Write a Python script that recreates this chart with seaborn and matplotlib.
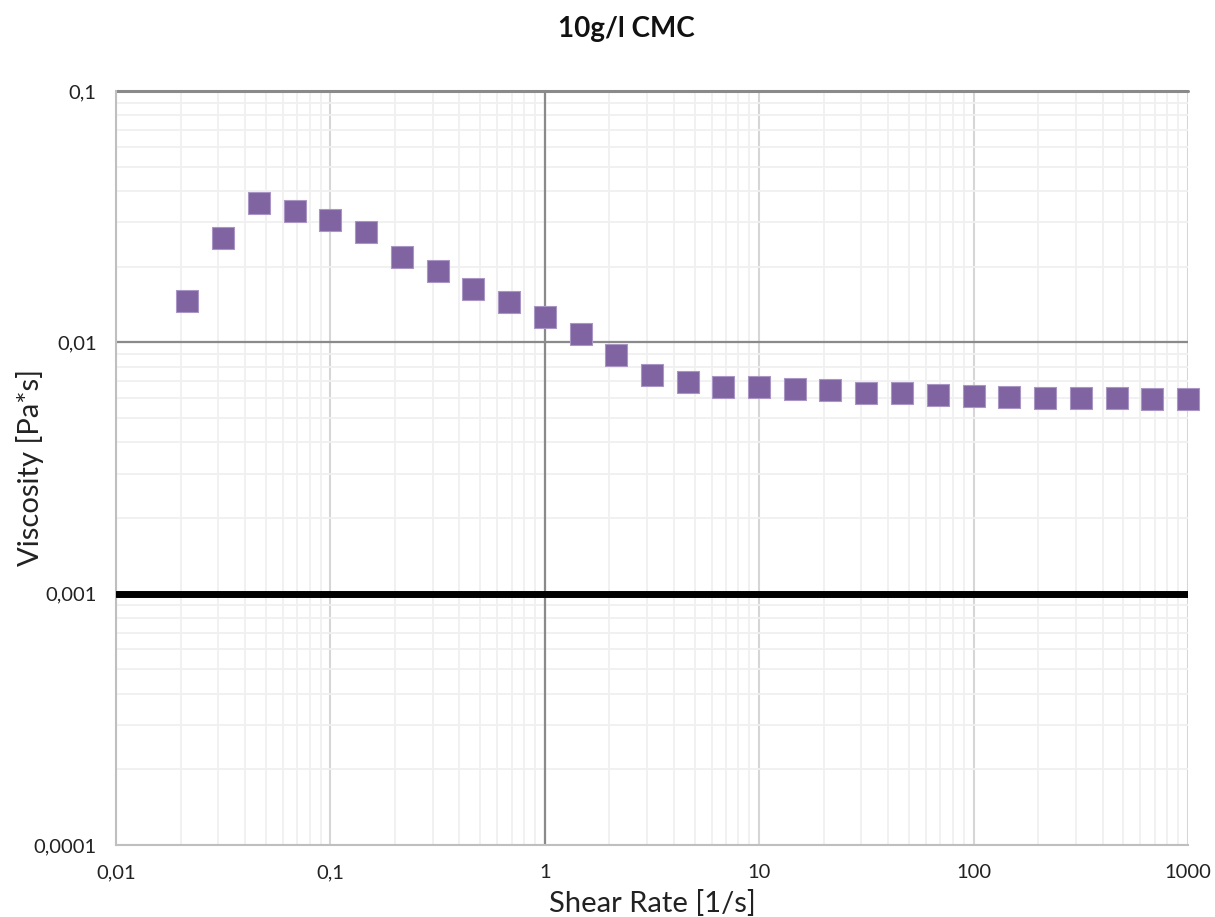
import numpy as np
import pandas as pd
import matplotlib
matplotlib.use("Agg")
import matplotlib.pyplot as plt
import matplotlib.ticker as mticker
import seaborn as sns

# data
shear_rate = [0.0215, 0.0316, 0.0464, 0.0681, 0.1, 0.147, 0.215, 0.316, 0.464, 0.681,
              1, 1.47, 2.15, 3.16, 4.64, 6.81, 10, 14.7, 21.5, 31.6, 46.4, 68.1,
              100, 147, 215, 316, 464, 681, 1000]
viscosity = [0.01458, 0.0259, 0.0359, 0.0334, 0.03055, 0.0275, 0.0218, 0.0193, 0.0163, 0.01445,
             0.01256, 0.01084, 0.00891, 0.00738, 0.00698, 0.00663, 0.00665, 0.00652, 0.00646, 0.00627,
             0.00626, 0.00617, 0.00611, 0.00606, 0.00603, 0.00599, 0.00598, 0.00595, 0.00595]
water_x = [0.01, 1000]
water_y = [0.001, 0.001]

x_ticks = [0.01, 0.1, 1, 10, 100, 1000]
x_labels = ["0,01", "0,1", "1", "10", "100", "1000"]
y_ticks = [0.0001, 0.001, 0.01, 0.1]
y_labels = ["0,0001", "0,001", "0,01", "0,1"]

df = pd.DataFrame({"shear": shear_rate, "visc": viscosity})

sns.set_style("white")
plt.rcParams['font.family'] = ['Lato', 'DejaVu Sans']

fig = plt.figure(figsize=(12.15, 9.17), dpi=100)
ax = fig.add_axes([116 / 1215, 1 - 845 / 917, (1188 - 116) / 1215, (845 - 91) / 917])
ax.set_xscale("log")
ax.set_yscale("log")
ax.set_xlim(0.01, 1000)
ax.set_ylim(0.0001, 0.1)

# grid like the Excel original
ax.xaxis.set_minor_locator(mticker.LogLocator(base=10, subs=np.arange(2, 10)))
ax.yaxis.set_minor_locator(mticker.LogLocator(base=10, subs=np.arange(2, 10)))
ax.grid(which="minor", color="#f0f0f0", lw=1.3)
ax.grid(which="major", color="#d6d6d6", lw=1.5)
ax.axvline(1, color="#8a8a8a", lw=1.6, zorder=1)
ax.axhline(0.01, color="#8a8a8a", lw=1.6, zorder=1)
ax.axhline(0.1, color="#8a8a8a", lw=2.2, zorder=1, clip_on=False)
ax.set_axisbelow(True)

sns.lineplot(x=water_x, y=water_y, color="black", lw=5, ax=ax, zorder=3)
sns.scatterplot(data=df, x="shear", y="visc", marker="s", s=230, color="#8064A2",
                edgecolor="#a996c4", linewidth=0.8, ax=ax, zorder=4, clip_on=False)

ax.xaxis.set_major_locator(mticker.FixedLocator(x_ticks))
ax.xaxis.set_major_formatter(mticker.FixedFormatter(x_labels))
ax.yaxis.set_major_locator(mticker.FixedLocator(y_ticks))
ax.yaxis.set_major_formatter(mticker.FixedFormatter(y_labels))
ax.tick_params(which="both", length=0, labelsize=14.5, colors="#222222")
ax.tick_params(axis="x", pad=14)
ax.tick_params(axis="y", pad=14)

for side in ["top", "right"]:
    ax.spines[side].set_visible(False)
for side in ["left", "bottom"]:
    ax.spines[side].set_color("#bfbfbf")
    ax.spines[side].set_linewidth(1.5)

ax.set_xlabel("Shear Rate [1/s]", fontsize=21, color="#222222")
ax.set_ylabel("Viscosity [Pa*s]", fontsize=21, color="#222222")
ax.xaxis.label.set_va("center")
ax.yaxis.label.set_va("center")
ax.xaxis.set_label_coords(0.5, -(903 - 845) / 754)
ax.yaxis.set_label_coords((30 - 116) / 1072, 0.5)
fig.text(626 / 1215, 1 - 29 / 917, "10g/l CMC", ha="center", va="center",
         fontsize=20, fontweight="bold", color="#111111")

fig.savefig("out.png", dpi=100, facecolor="white")
